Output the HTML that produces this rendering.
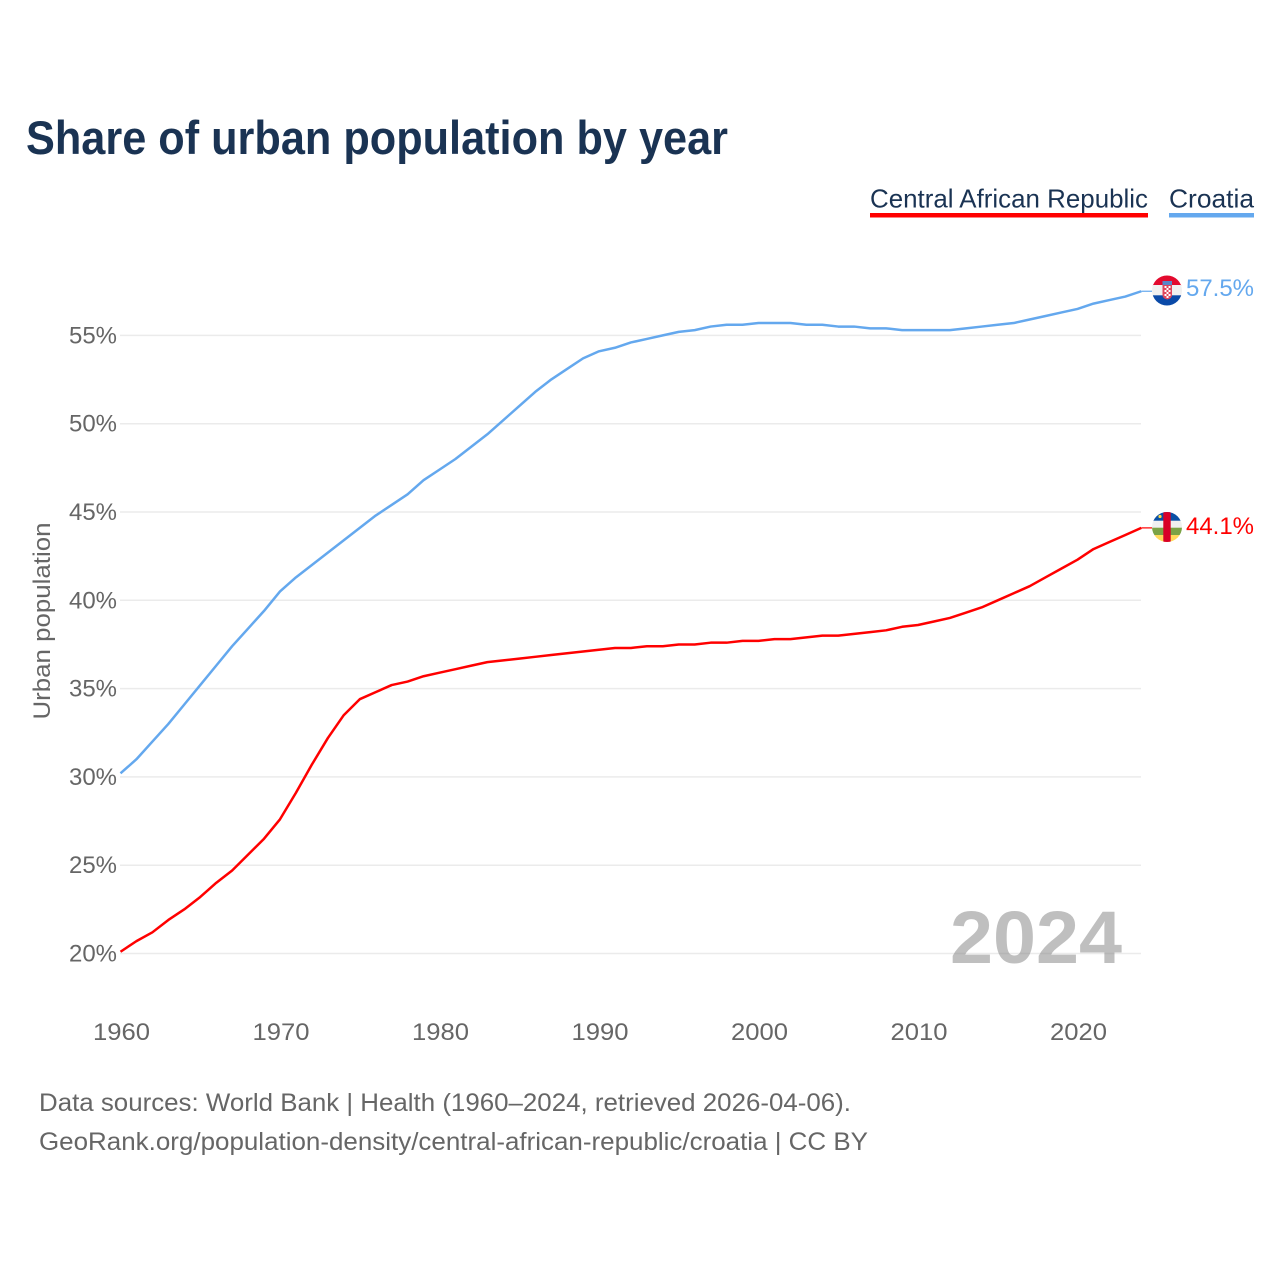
<!DOCTYPE html>
<html lang="en">
<head>
<meta charset="utf-8">
<title>Share of urban population by year</title>
<style>
html,body{margin:0;padding:0;background:#fff;}
svg{display:block;font-family:"Liberation Sans",sans-serif;}
</style>
</head>
<body>
<svg id="chart" width="1280" height="1280" viewBox="0 0 1280 1280" xmlns="http://www.w3.org/2000/svg">
  <defs>
    <clipPath id="flag-clip-hr"><circle cx="1167" cy="290.5" r="15"/></clipPath>
    <clipPath id="flag-clip-cf"><circle cx="1167" cy="527" r="15"/></clipPath>
  </defs>
  <rect x="0" y="0" width="1280" height="1280" fill="#fff"/>
  <text x="26" y="154" font-size="47" font-weight="700" fill="#1a3353" textLength="702" lengthAdjust="spacingAndGlyphs">Share of urban population by year</text>

  <g id="grid"></g>

  <text x="1122" y="963" text-anchor="end" font-size="74" font-weight="700" fill="#808080" fill-opacity="0.5" textLength="172" lengthAdjust="spacingAndGlyphs">2024</text>

  <g id="y-ticks"></g>
  <g id="x-ticks"></g>
  <text transform="translate(50,621) rotate(-90)" text-anchor="middle" font-size="24" fill="#666" textLength="197" lengthAdjust="spacingAndGlyphs">Urban population</text>

  <g>
    <g>
      <text x="870" y="207.5" font-size="26" fill="#1a3353" textLength="278" lengthAdjust="spacingAndGlyphs">Central African Republic</text>
      <rect x="870" y="213" width="278" height="4.5" fill="#ff0000"/>
    </g>
    <g>
      <text x="1169" y="207.5" font-size="26" fill="#1a3353" textLength="85" lengthAdjust="spacingAndGlyphs">Croatia</text>
      <rect x="1169" y="213" width="85" height="4.5" fill="#64a8ee"/>
    </g>
  </g>

  <g id="series"></g>

  <g clip-path="url(#flag-clip-hr)">
    <rect x="1152" y="275" width="30" height="11" fill="#e30a2e"/>
    <rect x="1152" y="285" width="30" height="11" fill="#f0f0f0"/>
    <rect x="1152" y="295.3" width="30" height="11" fill="#0a4aa8"/>
    <rect x="1162.5" y="281" width="9.5" height="4" fill="#5a86c8"/>
    <path d="M1162.5 285H1172V295Q1172 298.5 1167.2 299.5Q1162.5 298.5 1162.5 295Z" fill="#e0465c"/>
    <rect x="1164.5" y="286" width="2" height="2" fill="#fff"/>
    <rect x="1168.5" y="286" width="2" height="2" fill="#fff"/>
    <rect x="1166.5" y="288" width="2" height="2" fill="#fff"/>
    <rect x="1164.5" y="290" width="2" height="2" fill="#fff"/>
    <rect x="1168.5" y="290" width="2" height="2" fill="#fff"/>
    <rect x="1166.5" y="292" width="2" height="2" fill="#fff"/>
    <rect x="1164.5" y="294" width="2" height="2" fill="#fff"/>
    <rect x="1168.5" y="294" width="2" height="2" fill="#fff"/>
    <rect x="1166.5" y="296" width="2" height="2" fill="#fff"/>
  </g>
  <g clip-path="url(#flag-clip-cf)">
    <rect x="1152" y="511" width="30" height="10" fill="#0a50a5"/>
    <rect x="1152" y="520.7" width="30" height="7.2" fill="#f0f0f0"/>
    <rect x="1152" y="527.7" width="30" height="7.3" fill="#7ba345"/>
    <rect x="1152" y="535" width="30" height="8" fill="#ffda5a"/>
    <rect x="1163.3" y="511" width="7.4" height="32" fill="#d80027"/>
    <circle cx="1160" cy="516.5" r="1.6" fill="#ffda44"/>
  </g>

  <text x="1186" y="296" font-size="24" fill="#64a8ee" textLength="68" lengthAdjust="spacingAndGlyphs">57.5%</text>
  <text x="1186" y="534" font-size="24" fill="#ff0000" textLength="68" lengthAdjust="spacingAndGlyphs">44.1%</text>

  <text x="39" y="1111" font-size="25" fill="#666" textLength="812" lengthAdjust="spacingAndGlyphs">Data sources: World Bank | Health (1960–2024, retrieved 2026-04-06).</text>
  <text x="39" y="1150" font-size="25" fill="#666" textLength="829" lengthAdjust="spacingAndGlyphs">GeoRank.org/population-density/central-african-republic/croatia | CC BY</text>
</svg>
<script>
const startYear = 1960;
const yTicks = [20, 25, 30, 35, 40, 45, 50, 55];
const xTicks = [1960, 1970, 1980, 1990, 2000, 2010, 2020];
const croatiaValues = [30.2,31.0,32.0,33.0,34.1,35.2,36.3,37.4,38.4,39.4,40.5,41.3,42.0,42.7,43.4,44.1,44.8,45.4,46.0,46.8,47.4,48.0,48.7,49.4,50.2,51.0,51.8,52.5,53.1,53.7,54.1,54.3,54.6,54.8,55.0,55.2,55.3,55.5,55.6,55.6,55.7,55.7,55.7,55.6,55.6,55.5,55.5,55.4,55.4,55.3,55.3,55.3,55.3,55.4,55.5,55.6,55.7,55.9,56.1,56.3,56.5,56.8,57.0,57.2,57.5];
const carValues = [20.1,20.7,21.2,21.9,22.5,23.2,24.0,24.7,25.6,26.5,27.6,29.1,30.7,32.2,33.5,34.4,34.8,35.2,35.4,35.7,35.9,36.1,36.3,36.5,36.6,36.7,36.8,36.9,37.0,37.1,37.2,37.3,37.3,37.4,37.4,37.5,37.5,37.6,37.6,37.7,37.7,37.8,37.8,37.9,38.0,38.0,38.1,38.2,38.3,38.5,38.6,38.8,39.0,39.3,39.6,40.0,40.4,40.8,41.3,41.8,42.3,42.9,43.3,43.7,44.1];

const NS = 'http://www.w3.org/2000/svg';
function xScale(year) { return 120.5 + (year - 1960) * 15.95; }
function yScale(v) { return 953.5 - (v - 20) * 17.66; }
function make(tag, attrs, text) {
  const el = document.createElementNS(NS, tag);
  Object.keys(attrs).forEach(function (k) { el.setAttribute(k, attrs[k]); });
  if (text !== undefined) el.textContent = text;
  return el;
}

const gridGroup = document.getElementById('grid');
const yGroup = document.getElementById('y-ticks');
yTicks.forEach(function (t) {
  const line = make('line', { x1: 120, x2: 1141, y1: yScale(t), y2: yScale(t), stroke: '#ebebeb', 'stroke-width': 1.5 });
  
  
  gridGroup.appendChild(line);
  const label = make('text', { x: 117, y: yScale(t) + 8, 'text-anchor': 'end', 'font-size': 24, fill: '#666', textLength: 48, lengthAdjust: 'spacingAndGlyphs' }, t + '%');
  
  
  yGroup.appendChild(label);
});

const xGroup = document.getElementById('x-ticks');
xTicks.forEach(function (t) {
  const label = make('text', { x: xScale(t) + 1, y: 1040, 'text-anchor': 'middle', 'font-size': 24, fill: '#666', textLength: 57, lengthAdjust: 'spacingAndGlyphs' }, String(t));
  
  
  xGroup.appendChild(label);
});

function pathFor(values) {
  return values.map(function (v, i) {
    return (i ? 'L' : 'M') + xScale(startYear + i).toFixed(2) + ' ' + yScale(v).toFixed(2);
  }).join(' ');
}
const seriesGroup = document.getElementById('series');

const croatiaLine = make('path', { d: pathFor(croatiaValues), fill: 'none', stroke: '#64a8ee', 'stroke-width': 2.5, 'stroke-linejoin': 'round' });


seriesGroup.appendChild(croatiaLine);

const carLine = make('path', { d: pathFor(carValues), fill: 'none', stroke: '#ff0000', 'stroke-width': 2.5, 'stroke-linejoin': 'round' });


seriesGroup.appendChild(carLine);

const croatiaEnd = croatiaValues[croatiaValues.length - 1];
const croatiaLeader = make('line', { x1: xScale(2024), x2: 1152, y1: yScale(croatiaEnd), y2: yScale(croatiaEnd), stroke: '#64a8ee', 'stroke-width': 1.2 });


seriesGroup.appendChild(croatiaLeader);

const carEnd = carValues[carValues.length - 1];
const carLeader = make('line', { x1: xScale(2024), x2: 1152, y1: yScale(carEnd), y2: yScale(carEnd), stroke: '#ff0000', 'stroke-width': 1.2 });


seriesGroup.appendChild(carLeader);
</script>
</body>
</html>
